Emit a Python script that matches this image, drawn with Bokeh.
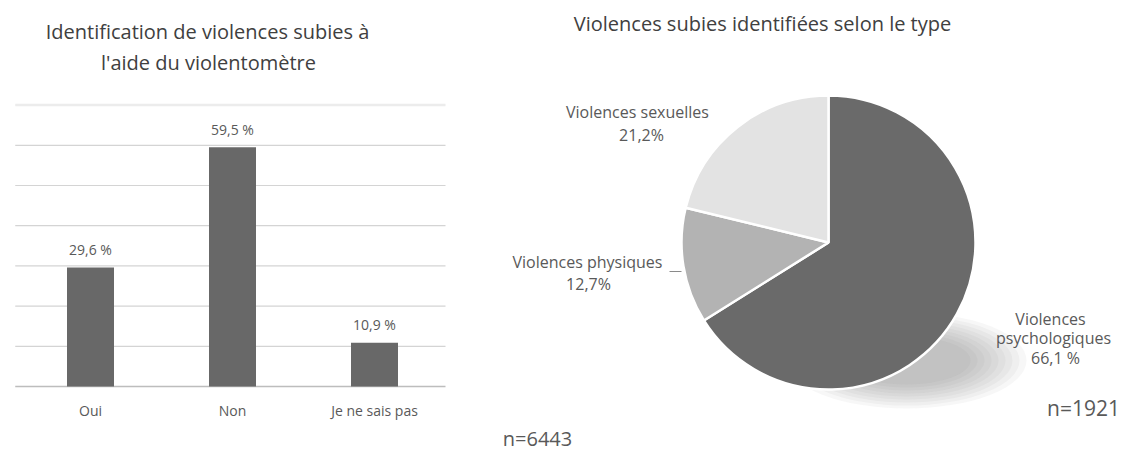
import math
from bokeh.plotting import figure
from bokeh.models import Range1d, ColumnDataSource
from bokeh.core.properties import value
from bokeh.embed import file_html
from bokeh.resources import INLINE

# ---------------- data ----------------
bar_categories = ["Oui", "Non", "Je ne sais pas"]
bar_values = [29.6, 59.5, 10.9]
bar_labels = ["29,6 %", "59,5 %", "10,9 %"]
bar_grid_ticks = [0, 10, 20, 30, 40, 50, 60, 70]
bar_title = ["Identification de violences subies à", "l'aide du violentomètre"]
bar_n = "n=6443"

pie_types = ["Violences psychologiques", "Violences physiques", "Violences sexuelles"]
pie_values = [66.1, 12.7, 21.2]
pie_label_lines = [["Violences", "psychologiques", "66,1 %"],
                   ["Violences physiques", "12,7%"],
                   ["Violences sexuelles", "21,2%"]]
pie_title = "Violences subies identifiées selon le type"
pie_n = "n=1921"

# ---------------- layout / style ----------------
W, H = 1125, 452
FONT = value("Open Sans")
TXT = "#595959"
TITLE = "#404040"

def px(page_x):
    return page_x

def py(page_y):
    return H - page_y

p = figure(width=W, height=H, x_range=Range1d(0, W), y_range=Range1d(0, H),
           output_backend="svg", toolbar_location=None, min_border=0,
           x_axis_type=None, y_axis_type=None)
p.outline_line_color = None
p.background_fill_color = "white"
p.border_fill_color = "white"

# ---- bar chart scales (extra ranges) ----
BAR_X0 = px(90)        # pixel position of first category centre
BAR_DX = 142.0         # pixels between categories
BAR_Y0 = py(386)       # pixel position of 0 %
PX_PER_PCT = 4.02
p.extra_x_ranges = {"bx": Range1d(-BAR_X0 / BAR_DX, (W - BAR_X0) / BAR_DX)}
p.extra_y_ranges = {"by": Range1d(-BAR_Y0 / PX_PER_PCT, (H - BAR_Y0) / PX_PER_PCT)}

idx = list(range(len(bar_categories)))

# grid lines
grid_colors = ["#bdbdbd"] + ["#d4d4d4"] * (len(bar_grid_ticks) - 2) + ["#ececec"]
grid_widths = [1.5] + [1.2] * (len(bar_grid_ticks) - 2) + [2.5]
p.segment(x0=[-0.53] * len(bar_grid_ticks), x1=[2.5] * len(bar_grid_ticks),
          y0=bar_grid_ticks, y1=bar_grid_ticks, line_color=grid_colors,
          line_width=grid_widths, x_range_name="bx", y_range_name="by")

bsrc = ColumnDataSource(dict(x=idx, top=bar_values, lab=bar_labels, cat=bar_categories,
                             ly=[v + 18 / PX_PER_PCT for v in bar_values],
                             cy=[-24 / PX_PER_PCT] * len(idx)))
p.vbar(x="x", top="top", bottom=0, width=47 / BAR_DX, source=bsrc,
       fill_color="#686868", line_color=None, x_range_name="bx", y_range_name="by")
p.text(x="x", y="ly", text="lab", source=bsrc, text_font=FONT, text_font_size="14px",
       text_color=TXT, text_align="center", text_baseline="middle",
       x_range_name="bx", y_range_name="by")
p.text(x="x", y="cy", text="cat", source=bsrc, text_font=FONT, text_font_size="14px",
       text_color=TXT, text_align="center", text_baseline="middle",
       x_range_name="bx", y_range_name="by")

# bar title
p.text(x=[px(207), px(208)], y=[py(31), py(62)], text=bar_title, text_font=FONT,
       text_font_size="20px", text_color=TITLE, text_align="center", text_baseline="middle")
p.text(x=[px(537)], y=[py(438)], text=[bar_n], text_font=FONT, text_font_size="20px",
       text_color=TXT, text_align="center", text_baseline="middle")

# ---- pie chart ----
CX, CY, R = px(828), py(242), 147.0

# soft perspective shadow (lower right)
for k in range(9):
    p.ellipse(x=[CX + 78], y=[CY - 118], width=[240 - k * 14],
              height=[96 - k * 6], fill_color="#6e6e6e", fill_alpha=0.055,
              line_color=None)

total = sum(pie_values)
starts, ends = [], []
cum = 0.0
for v in pie_values:
    starts.append(math.pi / 2 - cum / total * 2 * math.pi)
    cum += v
    ends.append(math.pi / 2 - cum / total * 2 * math.pi)
psrc = ColumnDataSource(dict(start=starts, end=ends, name=pie_types,
                             color=["#6a6a6a", "#b3b3b3", "#e3e3e3"]))
p.wedge(x=CX, y=CY, radius=R, start_angle="start", end_angle="end", direction="clock",
        fill_color="color", line_color="white", line_width=2.5, source=psrc)

# pie labels
lab_pos = [[(1050, 318), (1053, 337), (1055, 357)],
           [(587, 261), (588, 283)],
           [(637, 111), (641, 134)]]
for lines, pos in zip(pie_label_lines, lab_pos):
    p.text(x=[px(a) for a, b in pos], y=[py(b) for a, b in pos], text=lines,
           text_font=FONT, text_font_size="16px", text_color=TXT,
           text_align="center", text_baseline="middle")
# leader line for physiques
p.segment(x0=[px(669)], x1=[px(681)], y0=[py(271)], y1=[py(271)],
          line_color="#8a8a8a", line_width=1)

p.text(x=[px(762)], y=[py(23)], text=[pie_title], text_font=FONT, text_font_size="20px",
       text_color=TITLE, text_align="center", text_baseline="middle")
p.text(x=[px(1083)], y=[py(407)], text=[pie_n], text_font=FONT, text_font_size="21px",
       text_color=TXT, text_align="center", text_baseline="middle")

open("out.html", "w").write(file_html(p, INLINE))
